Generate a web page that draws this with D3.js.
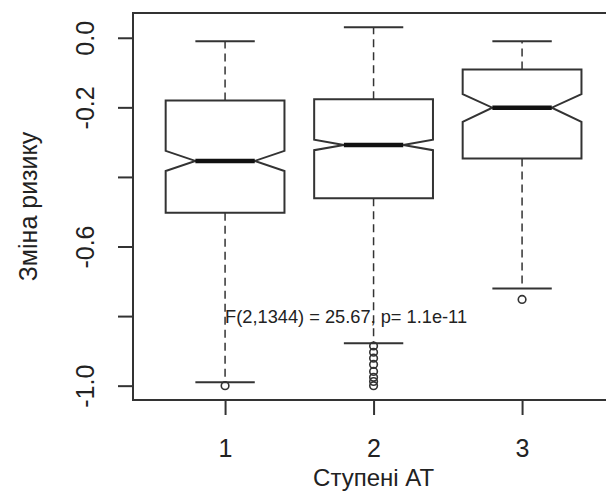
<!DOCTYPE html>
<html>
<head>
<meta charset="utf-8">
<script src="https://cdn.jsdelivr.net/npm/d3@7"></script>
<style>
  html, body { margin: 0; padding: 0; background: #fff; }
  svg { display: block; }
  text { font-family: "Liberation Sans", Arial, sans-serif; fill: #222; }
</style>
</head>
<body>
<svg id="chart" width="606" height="492"></svg>
<script>
// Risk change by hypertension grade: notched box plots
const groups = [1, 2, 3];
const upperWhisker = [-0.01, 0.03, -0.01];
const q3 = [-0.18, -0.177, -0.091];
const notchUpper = [-0.325, -0.293, -0.162];
const median = [-0.354, -0.308, -0.201];
const notchLower = [-0.383, -0.323, -0.242];
const q1 = [-0.503, -0.461, -0.347];
const lowerWhisker = [-0.99, -0.878, -0.721];
const outliers = [
  [-1.0],
  [-0.886, -0.904, -0.921, -0.939, -0.959, -0.976, -0.988, -1.0],
  [-0.752]
];
const yTicks = [0, -0.2, -0.4, -0.6, -0.8, -1.0];
const yTickLabels = ["0.0", "-0.2", "", "-0.6", "", "-1.0"];
const xTickLabels = ["1", "2", "3"];
const xTitle = "Ступені АТ";
const yTitle = "Зміна ризику";
const annotation = "F(2,1344) = 25.67, p= 1.1e-11";
const annotationAt = [1, -0.8];

const svg = d3.select("#chart");
const plot = { left: 133, top: 13, bottom: 400 };

// x range 0.5..3.5 widened by 4% on each side
const xLo = 0.5 - 0.04 * 3, xHi = 3.5 + 0.04 * 3;
const unit = 148.5;
const x = d3.scaleLinear().domain([xLo, xHi]).range([plot.left, plot.left + (xHi - xLo) * unit]);

const allVals = upperWhisker.concat(lowerWhisker, outliers.flat());
const yMin = d3.min(allVals), yMax = d3.max(allVals);
const pad = (yMax - yMin) * 0.04;
const y = d3.scaleLinear().domain([yMin - pad, yMax + pad]).range([plot.bottom, plot.top]);

const boxHalf = 0.4, notchHalf = 0.2, capHalf = 0.2;
const ink = "#333";

const g = svg.append("g");

groups.forEach((grp, i) => {
  const cx = grp;
  // whiskers
  g.append("line")
    .attr("x1", x(cx)).attr("x2", x(cx))
    .attr("y1", y(q3[i])).attr("y2", y(upperWhisker[i]))
    .attr("stroke", ink).attr("stroke-width", 1.5).attr("stroke-dasharray", "8,5");
  g.append("line")
    .attr("x1", x(cx)).attr("x2", x(cx))
    .attr("y1", y(q1[i])).attr("y2", y(lowerWhisker[i]))
    .attr("stroke", ink).attr("stroke-width", 1.5).attr("stroke-dasharray", "8,5");
  // caps
  [upperWhisker[i], lowerWhisker[i]].forEach(v => {
    g.append("line")
      .attr("x1", x(cx - capHalf)).attr("x2", x(cx + capHalf))
      .attr("y1", y(v)).attr("y2", y(v))
      .attr("stroke", ink).attr("stroke-width", 2);
  });
  // notched box outline
  const pts = [
    [cx - boxHalf, q3[i]], [cx + boxHalf, q3[i]], [cx + boxHalf, notchUpper[i]],
    [cx + notchHalf, median[i]], [cx + boxHalf, notchLower[i]], [cx + boxHalf, q1[i]],
    [cx - boxHalf, q1[i]], [cx - boxHalf, notchLower[i]], [cx - notchHalf, median[i]],
    [cx - boxHalf, notchUpper[i]]
  ];
  g.append("path")
    .attr("d", d3.line().x(d => x(d[0])).y(d => y(d[1]))(pts) + "Z")
    .attr("fill", "#fff").attr("stroke", ink).attr("stroke-width", 2);
  // median
  g.append("line")
    .attr("x1", x(cx - notchHalf)).attr("x2", x(cx + notchHalf))
    .attr("y1", y(median[i])).attr("y2", y(median[i]))
    .attr("stroke", "#111").attr("stroke-width", 4.5);
  // outliers
  g.selectAll(null).data(outliers[i]).enter().append("circle")
    .attr("cx", x(cx)).attr("cy", d => y(d)).attr("r", 3.8)
    .attr("fill", "none").attr("stroke", ink).attr("stroke-width", 1.6);
});

// frame
svg.append("rect")
  .attr("x", plot.left).attr("y", plot.top)
  .attr("width", x(xHi) - plot.left).attr("height", plot.bottom - plot.top)
  .attr("fill", "none").attr("stroke", "#333").attr("stroke-width", 2);

// y axis
const yAxis = svg.append("g")
  .attr("transform", `translate(${plot.left},0)`)
  .call(d3.axisLeft(y).tickValues(yTicks).tickSize(15).tickSizeOuter(0)
    .tickFormat((d, i) => yTickLabels[i]));
yAxis.select(".domain").remove();
yAxis.selectAll(".tick line").attr("stroke", "#333").attr("stroke-width", 2);
yAxis.selectAll(".tick text")
  .attr("transform", "rotate(-90)")
  .attr("x", 0).attr("y", -39).attr("dy", 0)
  .attr("text-anchor", "middle")
  .style("font-size", "25px").style("font-family", "'Liberation Sans', Arial, sans-serif")
  .attr("fill", "#222");

// x axis
const xAxis = svg.append("g")
  .attr("transform", `translate(0,${plot.bottom})`)
  .call(d3.axisBottom(x).tickValues(groups).tickSize(15).tickSizeOuter(0)
    .tickFormat((d, i) => xTickLabels[i]));
xAxis.select(".domain").remove();
xAxis.selectAll(".tick line").attr("stroke", "#333").attr("stroke-width", 2);
xAxis.selectAll(".tick text")
  .attr("y", 57).attr("dy", 0)
  .style("font-size", "25px").style("font-family", "'Liberation Sans', Arial, sans-serif")
  .attr("fill", "#222");

// titles
svg.append("text")
  .attr("x", x(2)).attr("y", 486)
  .attr("text-anchor", "middle")
  .style("font-size", "24px")
  .text(xTitle);
svg.append("text")
  .attr("transform", `translate(37,${(plot.top + plot.bottom) / 2}) rotate(-90)`)
  .attr("text-anchor", "middle")
  .style("font-size", "25px")
  .text(yTitle);

// test statistic
svg.append("text")
  .attr("x", x(annotationAt[0])).attr("y", y(annotationAt[1]))
  .attr("dy", "0.35em")
  .attr("textLength", 242).attr("lengthAdjust", "spacingAndGlyphs")
  .style("font-size", "19px")
  .text(annotation);
</script>
</body>
</html>
